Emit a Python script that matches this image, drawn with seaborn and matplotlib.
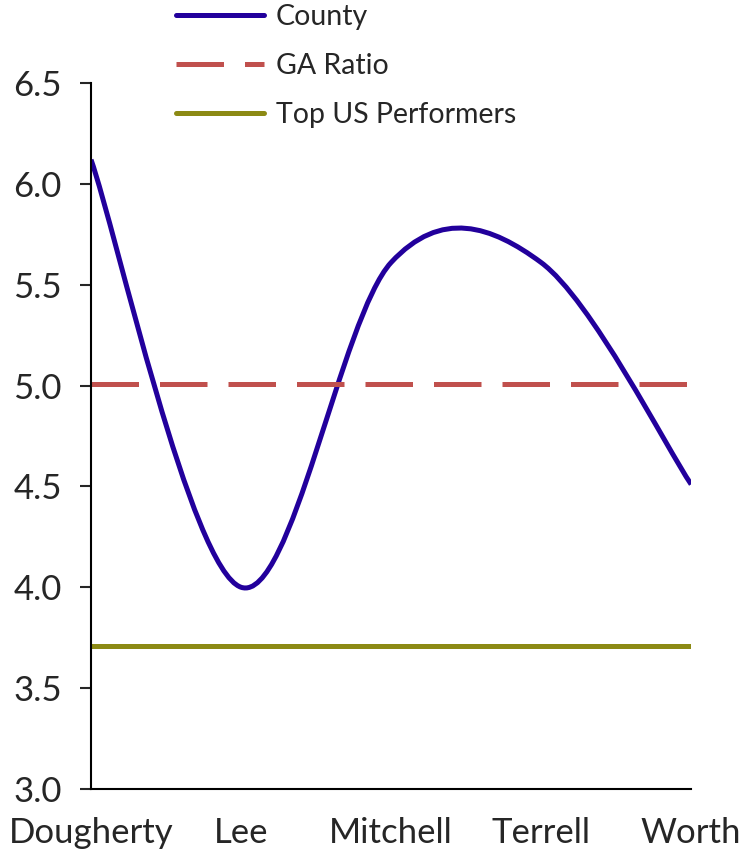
import numpy as np
import pandas as pd
import seaborn as sns
import matplotlib.pyplot as plt
from matplotlib.path import Path
from matplotlib.patches import PathPatch
from matplotlib.lines import Line2D

# data
counties = ['Dougherty', 'Lee', 'Mitchell', 'Terrell', 'Worth']
county_ratio = [6.12, 4.0, 5.61, 5.61, 4.51]
ga_ratio = [5.01, 5.01, 5.01, 5.01, 5.01]
top_us = [3.71, 3.71, 3.71, 3.71, 3.71]

blue = '#22009C'
red = '#C0504D'
olive = '#8C8A14'

sns.set_style('ticks')
plt.rcParams['font.family'] = ['Lato', 'DejaVu Sans']

fig = plt.figure(figsize=(7.4, 8.52), dpi=100)
ax = fig.add_axes([0.123, 0.074, 0.811, 0.8286])

x = np.arange(len(counties))
df = pd.DataFrame({'x': x, 'GA Ratio': ga_ratio, 'Top US Performers': top_us})

sns.lineplot(data=df, x='x', y='Top US Performers', ax=ax, color=olive, lw=3.6)
sns.lineplot(data=df, x='x', y='GA Ratio', ax=ax, color=red, lw=3.6)
ax.lines[-1].set_dashes([9.5, 4.2])

# smoothed county line (Excel-style bezier)
pts = np.column_stack([x, county_ratio]).astype(float)
verts = [pts[0]]
codes = [Path.MOVETO]
n = len(pts)
for i in range(n - 1):
    p_prev = pts[i - 1] if i > 0 else pts[i]
    p_next = pts[i + 2] if i + 2 < n else pts[i + 1]
    c1 = pts[i] + (pts[i + 1] - p_prev) / 6
    c2 = pts[i + 1] - (p_next - pts[i]) / 6
    verts += [c1, c2, pts[i + 1]]
    codes += [Path.CURVE4] * 3
ax.add_patch(PathPatch(Path(verts, codes), fill=False, edgecolor=blue,
                       lw=3.6, capstyle='butt', joinstyle='round'))

ax.set_xlim(0, 4)
ax.set_ylim(3.0, 6.5)
ax.set_xticks(x)
ax.set_xticklabels(counties)
ax.set_yticks(np.arange(3.0, 6.51, 0.5))
ax.set_yticklabels([f'{v:.1f}' for v in np.arange(3.0, 6.51, 0.5)])
ax.set_xlabel('')
ax.set_ylabel('')
ax.tick_params(axis='x', length=0, pad=20, labelsize=25)
ax.tick_params(axis='y', length=8, width=1.5, pad=13, labelsize=25, direction='out')
for s in ['left', 'bottom']:
    ax.spines[s].set_linewidth(1.5)
    ax.spines[s].set_color('black')
sns.despine(ax=ax)

handles = [Line2D([], [], color=blue, lw=3.6),
           Line2D([], [], color=red, lw=3.6, dashes=[9.5, 4.2]),
           Line2D([], [], color=olive, lw=3.6)]
fig.legend(handles, ['County', 'GA Ratio', 'Top US Performers'],
           loc='upper left', bbox_to_anchor=(0.203, 1.025), frameon=False,
           fontsize=20.5, handlelength=3.1, handletextpad=0.42, labelspacing=0.8)

fig.savefig('out.png', dpi=100)
